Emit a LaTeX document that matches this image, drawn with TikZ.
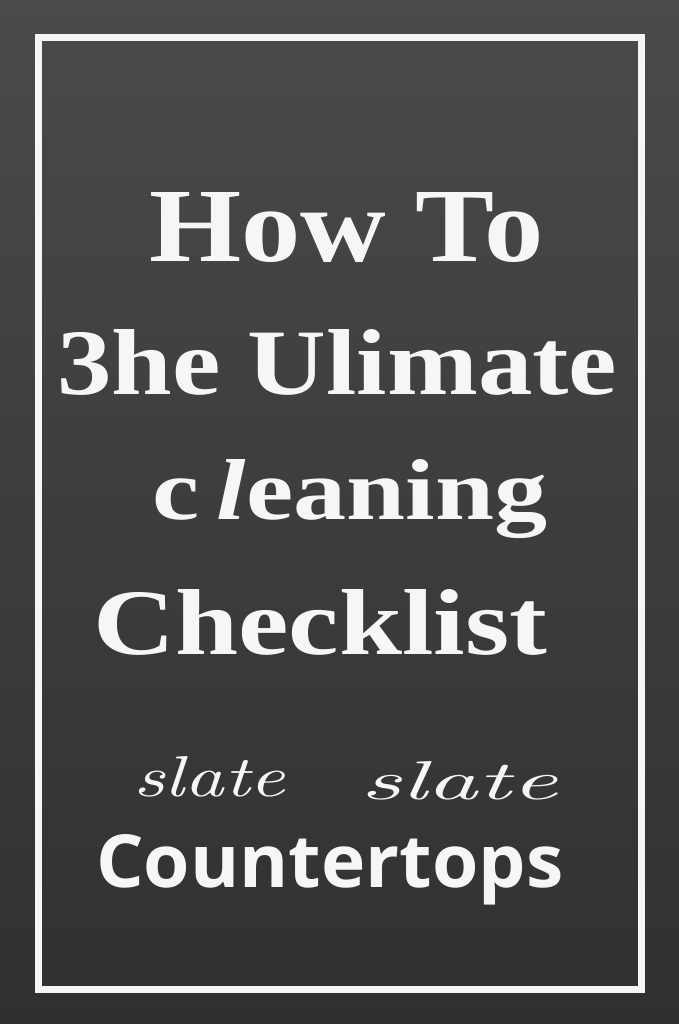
\documentclass[tikz,border=0pt]{standalone}
\usepackage{fontspec}
\usepackage{graphicx}
\setmainfont{Liberation Serif}
\newfontfamily\countfont{Open Sans}

\definecolor{slatetop}{RGB}{74,74,74}
\definecolor{slatebot}{RGB}{48,48,48}
\definecolor{chalk}{RGB}{246,246,246}

\begin{document}
\begin{tikzpicture}[x=1pt,y=1pt,
    word/.style={anchor=base west, inner sep=0pt, text=chalk}]
      \useasboundingbox (0,0) rectangle (679,1024);
      \shade[top color=slatetop, bottom color=slatebot] (0,0) rectangle (679,1024);
      \draw[chalk, line width=7pt] (38.5,34.5) rectangle (641.5,986.5);
      % title lines
      \node[word] (howto)     at (149,762) {\resizebox{394pt}{69pt}{\bfseries How To}};
      \node[word] (ultimate)  at (57,629)  {\resizebox{560pt}{65pt}{\bfseries 3he Ulimate}};
      \node[word] (cleaning)  at (152,504) {\resizebox{395pt}{60pt}{\bfseries c\,{\itshape l}eaning}};
      \node[word] (checklist) at (93,369)  {\resizebox{454pt}{65pt}{\bfseries Checklist}};
      % handwritten words
      \node[word] (slateA)    at (133,227) {\resizebox{152pt}{40pt}{\fontspec{Latin Modern Roman}\itshape slate}};
      \node[word] (slateB)    at (360,224) {\resizebox{197pt}{38pt}{\fontspec{Latin Modern Roman}\itshape slate}};
      \node[word] (counter)   at (96,136)  {\resizebox{467pt}{53pt}{\countfont\bfseries Countertops}};
    \end{tikzpicture}
\end{document}
